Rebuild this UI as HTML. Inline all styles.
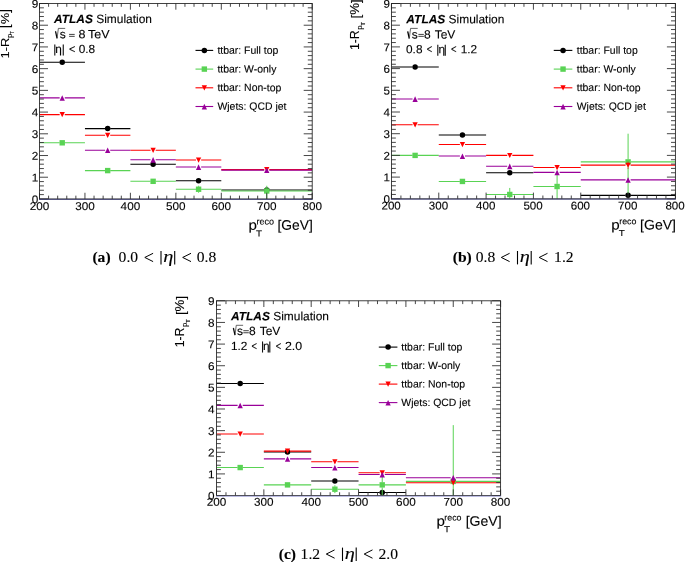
<!DOCTYPE html>
<html><head><meta charset="utf-8"><title>figure</title>
<style>
html,body{margin:0;padding:0;background:#fff;}
body{width:685px;height:562px;overflow:hidden;position:relative;font-family:"Liberation Sans",sans-serif;}
svg{position:absolute;left:0;top:0;will-change:transform;}
svg text{font-family:"Liberation Sans",sans-serif;fill:#000;stroke:#000;stroke-width:0.12px;}
</style></head><body>
<svg width="685" height="562" viewBox="0 0 685 562">
<clipPath id="ca"><rect x="39.5" y="3.5" width="272.7" height="195.45"/></clipPath>
<g clip-path="url(#ca)"><path d="M39.50 62.31H59.67M64.77 62.31H84.95" stroke="#000000" stroke-width="1.1"/><circle cx="62.22" cy="62.31" r="2.75" fill="#000000"/><path d="M84.95 128.61H105.12M110.22 128.61H130.40" stroke="#000000" stroke-width="1.1"/><circle cx="107.67" cy="128.61" r="2.75" fill="#000000"/><path d="M130.40 164.29H150.57M155.68 164.29H175.85" stroke="#000000" stroke-width="1.1"/><circle cx="153.12" cy="164.29" r="2.75" fill="#000000"/><path d="M175.85 180.79H196.03M201.13 180.79H221.30" stroke="#000000" stroke-width="1.1"/><circle cx="198.58" cy="180.79" r="2.75" fill="#000000"/><path d="M221.30 190.00H264.20M269.30 190.00H312.20" stroke="#000000" stroke-width="1.1"/><circle cx="266.75" cy="190.00" r="2.75" fill="#000000"/><path d="M39.50 142.81H59.67M64.77 142.81H84.95" stroke="#59d354" stroke-width="1.1"/><rect x="59.52" y="140.11" width="5.4" height="5.4" fill="#59d354"/><path d="M84.95 170.59H105.12M110.22 170.59H130.40" stroke="#59d354" stroke-width="1.1"/><rect x="104.97" y="167.89" width="5.4" height="5.4" fill="#59d354"/><path d="M130.40 181.32H150.57M155.68 181.32H175.85" stroke="#59d354" stroke-width="1.1"/><rect x="150.43" y="178.62" width="5.4" height="5.4" fill="#59d354"/><path d="M175.85 189.24H196.03M201.13 189.24H221.30" stroke="#59d354" stroke-width="1.1"/><path d="M198.58 185.77V186.69M198.58 191.79V192.72" stroke="#59d354" stroke-width="1.0"/><rect x="195.88" y="186.54" width="5.4" height="5.4" fill="#59d354"/><path d="M221.30 190.98H264.20M269.30 190.98H312.20" stroke="#59d354" stroke-width="1.1"/><path d="M266.75 185.77V188.43M266.75 193.53V201.84" stroke="#59d354" stroke-width="1.0"/><rect x="264.05" y="188.28" width="5.4" height="5.4" fill="#59d354"/><path d="M39.50 114.60H59.67M64.77 114.60H84.95" stroke="#ff0000" stroke-width="1.1"/><path d="M59.57 112.10h5.3l-2.65 5.2z" fill="#ff0000"/><path d="M84.95 135.21H105.12M110.22 135.21H130.40" stroke="#ff0000" stroke-width="1.1"/><path d="M105.02 132.71h5.3l-2.65 5.2z" fill="#ff0000"/><path d="M130.40 150.20H150.57M155.68 150.20H175.85" stroke="#ff0000" stroke-width="1.1"/><path d="M150.47 147.70h5.3l-2.65 5.2z" fill="#ff0000"/><path d="M175.85 159.95H196.03M201.13 159.95H221.30" stroke="#ff0000" stroke-width="1.1"/><path d="M195.93 157.45h5.3l-2.65 5.2z" fill="#ff0000"/><path d="M221.30 169.61H264.20M269.30 169.61H312.20" stroke="#ff0000" stroke-width="1.1"/><path d="M264.10 167.11h5.3l-2.65 5.2z" fill="#ff0000"/><path d="M39.50 97.90H59.67M64.77 97.90H84.95" stroke="#990099" stroke-width="1.1"/><path d="M59.57 100.80h5.3l-2.65 -5.55z" fill="#990099"/><path d="M84.95 150.20H105.12M110.22 150.20H130.40" stroke="#990099" stroke-width="1.1"/><path d="M105.02 153.10h5.3l-2.65 -5.55z" fill="#990099"/><path d="M130.40 159.73H150.57M155.68 159.73H175.85" stroke="#990099" stroke-width="1.1"/><path d="M150.47 162.63h5.3l-2.65 -5.55z" fill="#990099"/><path d="M175.85 167.00H196.03M201.13 167.00H221.30" stroke="#990099" stroke-width="1.1"/><path d="M195.93 169.90h5.3l-2.65 -5.55z" fill="#990099"/><path d="M221.30 170.15H264.20M269.30 170.15H312.20" stroke="#990099" stroke-width="1.1"/><path d="M264.10 173.05h5.3l-2.65 -5.55z" fill="#990099"/></g>
<path d="M39.50 198.95v-6.2M39.50 3.5v6.2M48.59 198.95v-3.3M48.59 3.5v3.3M57.68 198.95v-3.3M57.68 3.5v3.3M66.77 198.95v-3.3M66.77 3.5v3.3M75.86 198.95v-3.3M75.86 3.5v3.3M84.95 198.95v-6.2M84.95 3.5v6.2M94.04 198.95v-3.3M94.04 3.5v3.3M103.13 198.95v-3.3M103.13 3.5v3.3M112.22 198.95v-3.3M112.22 3.5v3.3M121.31 198.95v-3.3M121.31 3.5v3.3M130.40 198.95v-6.2M130.40 3.5v6.2M139.49 198.95v-3.3M139.49 3.5v3.3M148.58 198.95v-3.3M148.58 3.5v3.3M157.67 198.95v-3.3M157.67 3.5v3.3M166.76 198.95v-3.3M166.76 3.5v3.3M175.85 198.95v-6.2M175.85 3.5v6.2M184.94 198.95v-3.3M184.94 3.5v3.3M194.03 198.95v-3.3M194.03 3.5v3.3M203.12 198.95v-3.3M203.12 3.5v3.3M212.21 198.95v-3.3M212.21 3.5v3.3M221.30 198.95v-6.2M221.30 3.5v6.2M230.39 198.95v-3.3M230.39 3.5v3.3M239.48 198.95v-3.3M239.48 3.5v3.3M248.57 198.95v-3.3M248.57 3.5v3.3M257.66 198.95v-3.3M257.66 3.5v3.3M266.75 198.95v-6.2M266.75 3.5v6.2M275.84 198.95v-3.3M275.84 3.5v3.3M284.93 198.95v-3.3M284.93 3.5v3.3M294.02 198.95v-3.3M294.02 3.5v3.3M303.11 198.95v-3.3M303.11 3.5v3.3M312.20 198.95v-6.2M312.20 3.5v6.2M39.5 198.95h8.5M312.2 198.95h-8.5M39.5 194.61h4.4M312.2 194.61h-4.4M39.5 190.26h4.4M312.2 190.26h-4.4M39.5 185.92h4.4M312.2 185.92h-4.4M39.5 181.58h4.4M312.2 181.58h-4.4M39.5 177.23h8.5M312.2 177.23h-8.5M39.5 172.89h4.4M312.2 172.89h-4.4M39.5 168.55h4.4M312.2 168.55h-4.4M39.5 164.20h4.4M312.2 164.20h-4.4M39.5 159.86h4.4M312.2 159.86h-4.4M39.5 155.52h8.5M312.2 155.52h-8.5M39.5 151.17h4.4M312.2 151.17h-4.4M39.5 146.83h4.4M312.2 146.83h-4.4M39.5 142.49h4.4M312.2 142.49h-4.4M39.5 138.14h4.4M312.2 138.14h-4.4M39.5 133.80h8.5M312.2 133.80h-8.5M39.5 129.46h4.4M312.2 129.46h-4.4M39.5 125.11h4.4M312.2 125.11h-4.4M39.5 120.77h4.4M312.2 120.77h-4.4M39.5 116.43h4.4M312.2 116.43h-4.4M39.5 112.08h8.5M312.2 112.08h-8.5M39.5 107.74h4.4M312.2 107.74h-4.4M39.5 103.40h4.4M312.2 103.40h-4.4M39.5 99.05h4.4M312.2 99.05h-4.4M39.5 94.71h4.4M312.2 94.71h-4.4M39.5 90.37h8.5M312.2 90.37h-8.5M39.5 86.02h4.4M312.2 86.02h-4.4M39.5 81.68h4.4M312.2 81.68h-4.4M39.5 77.34h4.4M312.2 77.34h-4.4M39.5 72.99h4.4M312.2 72.99h-4.4M39.5 68.65h8.5M312.2 68.65h-8.5M39.5 64.31h4.4M312.2 64.31h-4.4M39.5 59.96h4.4M312.2 59.96h-4.4M39.5 55.62h4.4M312.2 55.62h-4.4M39.5 51.28h4.4M312.2 51.28h-4.4M39.5 46.93h8.5M312.2 46.93h-8.5M39.5 42.59h4.4M312.2 42.59h-4.4M39.5 38.25h4.4M312.2 38.25h-4.4M39.5 33.90h4.4M312.2 33.90h-4.4M39.5 29.56h4.4M312.2 29.56h-4.4M39.5 25.22h8.5M312.2 25.22h-8.5M39.5 20.87h4.4M312.2 20.87h-4.4M39.5 16.53h4.4M312.2 16.53h-4.4M39.5 12.19h4.4M312.2 12.19h-4.4M39.5 7.84h4.4M312.2 7.84h-4.4M39.5 3.50h8.5M312.2 3.50h-8.5" stroke="#333" stroke-width="0.9" fill="none"/>
<rect x="39.5" y="3.5" width="272.7" height="195.45" fill="none" stroke="#222" stroke-width="0.85"/>
<path d="M39.0 199.39999999999998H312.7" stroke="#30306a" stroke-width="0.8"/>
<text transform="translate(39.50 210.05) rotate(0.03) scale(1.0400 1)" font-size="11.3" text-anchor="middle">200</text>
<text transform="translate(84.95 210.05) rotate(0.03) scale(1.0400 1)" font-size="11.3" text-anchor="middle">300</text>
<text transform="translate(130.40 210.05) rotate(0.03) scale(1.0400 1)" font-size="11.3" text-anchor="middle">400</text>
<text transform="translate(175.85 210.05) rotate(0.03) scale(1.0400 1)" font-size="11.3" text-anchor="middle">500</text>
<text transform="translate(221.30 210.05) rotate(0.03) scale(1.0400 1)" font-size="11.3" text-anchor="middle">600</text>
<text transform="translate(266.75 210.05) rotate(0.03) scale(1.0400 1)" font-size="11.3" text-anchor="middle">700</text>
<text transform="translate(312.20 210.05) rotate(0.03) scale(1.0400 1)" font-size="11.3" text-anchor="middle">800</text>
<text transform="translate(38.40 203.20) rotate(0.03) scale(1.0400 1)" font-size="11.3" text-anchor="end">0</text>
<text transform="translate(38.40 181.48) rotate(0.03) scale(1.0400 1)" font-size="11.3" text-anchor="end">1</text>
<text transform="translate(38.40 159.77) rotate(0.03) scale(1.0400 1)" font-size="11.3" text-anchor="end">2</text>
<text transform="translate(38.40 138.05) rotate(0.03) scale(1.0400 1)" font-size="11.3" text-anchor="end">3</text>
<text transform="translate(38.40 116.33) rotate(0.03) scale(1.0400 1)" font-size="11.3" text-anchor="end">4</text>
<text transform="translate(38.40 94.62) rotate(0.03) scale(1.0400 1)" font-size="11.3" text-anchor="end">5</text>
<text transform="translate(38.40 72.90) rotate(0.03) scale(1.0400 1)" font-size="11.3" text-anchor="end">6</text>
<text transform="translate(38.40 51.18) rotate(0.03) scale(1.0400 1)" font-size="11.3" text-anchor="end">7</text>
<text transform="translate(38.40 29.47) rotate(0.03) scale(1.0400 1)" font-size="11.3" text-anchor="end">8</text>
<text transform="translate(38.40 7.75) rotate(0.03) scale(1.0400 1)" font-size="11.3" text-anchor="end">9</text>
<text transform="translate(312.80 229.80) rotate(0.03) scale(1.0000 1)" font-size="13.8" text-anchor="end">[GeV]</text>
<text transform="translate(248.60 229.80) rotate(0.03) scale(1.1000 1)" font-size="13.8">p</text>
<text transform="translate(256.60 224.60) rotate(0.03) scale(1.0000 1)" font-size="9.0">reco</text>
<text transform="translate(255.90 236.40) rotate(0.03) scale(1.1500 1)" font-size="8.6">T</text>
<text transform="translate(8.70 58.40) rotate(-90) scale(1.0 0.9)" font-size="12.9">1-R</text>
<text transform="translate(11.50 38.00) rotate(-90) scale(1.0 0.9)" font-size="7.6">p</text>
<text transform="translate(14.30 34.30) rotate(-90) scale(1.0 0.9)" font-size="5.0">T</text>
<text transform="translate(9.30 27.90) rotate(-90) scale(1.0 1.08)" font-size="12.9">[</text>
<text transform="translate(8.70 24.31) rotate(-90) scale(1.0 0.9)" font-size="12.9">%</text>
<text transform="translate(9.30 12.85) rotate(-90) scale(1.0 1.08)" font-size="12.9">]</text>
<text transform="translate(54.00 23.00) rotate(0.03) scale(0.9950 1)" font-size="12.0"><tspan font-weight="bold" font-style="italic">ATLAS</tspan> Simulation</text>
<path d="M55.00 31.80l0.65 -0.45" fill="none" stroke="#222" stroke-width="0.7"/>
<path d="M55.55 31.30L57.05 38.30" fill="none" stroke="#000" stroke-width="1.25"/>
<path d="M57.10 38.30L58.35 28.40H65.20" fill="none" stroke="#333" stroke-width="0.75" stroke-linejoin="miter"/>
<text transform="translate(59.70 38.20) rotate(0.03) scale(1.0000 1)" font-size="12.0">s</text>
<path d="M69.10 34.40h5.6M69.10 36.35h5.6" stroke="#000" stroke-width="0.75"/>
<text transform="translate(78.50 38.20) rotate(0.03) scale(1.0450 1)" font-size="12.0">8</text>
<text transform="translate(88.10 38.20) rotate(0.03) scale(1.0450 1)" font-size="12.0">TeV</text>
<text transform="translate(53.30 53.00) rotate(0.03) scale(1.0000 1)" font-size="11.8">|</text>
<text transform="translate(55.30 53.00) rotate(0.03) scale(1.0000 1)" font-size="11.8">η</text>
<text transform="translate(61.70 53.00) rotate(0.03) scale(1.0000 1)" font-size="11.8">|</text>
<text transform="translate(69.00 53.00) rotate(0.03) scale(0.9300 1)" font-size="11.8">&lt;</text>
<text transform="translate(78.70 53.00) rotate(0.03) scale(1.0000 1)" font-size="11.8">0.8</text>
<path d="M195.5 50.40h17.7" stroke="#000000" stroke-width="1.1"/>
<circle cx="204.35" cy="50.40" r="2.75" fill="#000000"/>
<text transform="translate(217.40 53.70) rotate(0.03) scale(0.9950 1)" font-size="10.5">ttbar: Full top</text>
<path d="M195.5 69.10h17.7" stroke="#59d354" stroke-width="1.1"/>
<rect x="201.65" y="66.40" width="5.4" height="5.4" fill="#59d354"/>
<text transform="translate(217.40 72.40) rotate(0.03) scale(0.9950 1)" font-size="10.5">ttbar: W-only</text>
<path d="M195.5 87.80h17.7" stroke="#ff0000" stroke-width="1.1"/>
<path d="M201.70 85.30h5.3l-2.65 5.2z" fill="#ff0000"/>
<text transform="translate(217.40 91.10) rotate(0.03) scale(0.9950 1)" font-size="10.5">ttbar: Non-top</text>
<path d="M195.5 106.50h17.7" stroke="#990099" stroke-width="1.1"/>
<path d="M201.70 109.40h5.3l-2.65 -5.55z" fill="#990099"/>
<text transform="translate(217.40 109.80) rotate(0.03) scale(0.9950 1)" font-size="10.5">Wjets: QCD jet</text>
<clipPath id="cb"><rect x="391.45" y="3.5" width="283.95" height="195.3"/></clipPath>
<g clip-path="url(#cb)"><path d="M391.45 66.97H412.56M417.66 66.97H438.77" stroke="#000000" stroke-width="1.1"/><circle cx="415.11" cy="66.97" r="2.75" fill="#000000"/><path d="M438.77 135.00H459.89M464.99 135.00H486.10" stroke="#000000" stroke-width="1.1"/><circle cx="462.44" cy="135.00" r="2.75" fill="#000000"/><path d="M486.10 172.76H507.21M512.31 172.76H533.42" stroke="#000000" stroke-width="1.1"/><circle cx="509.76" cy="172.76" r="2.75" fill="#000000"/><path d="M580.75 195.33H625.53M630.62 195.33H675.40" stroke="#000000" stroke-width="1.1"/><circle cx="628.08" cy="195.33" r="2.75" fill="#000000"/><path d="M391.45 155.40H412.56M417.66 155.40H438.77" stroke="#59d354" stroke-width="1.1"/><rect x="412.41" y="152.70" width="5.4" height="5.4" fill="#59d354"/><path d="M438.77 181.44H459.89M464.99 181.44H486.10" stroke="#59d354" stroke-width="1.1"/><rect x="459.74" y="178.74" width="5.4" height="5.4" fill="#59d354"/><path d="M486.10 194.46H507.21M512.31 194.46H533.42" stroke="#59d354" stroke-width="1.1"/><path d="M509.76 187.95V191.91M509.76 197.01V200.97" stroke="#59d354" stroke-width="1.0"/><rect x="507.06" y="191.76" width="5.4" height="5.4" fill="#59d354"/><path d="M533.42 186.50H554.54M559.64 186.50H580.75" stroke="#59d354" stroke-width="1.1"/><path d="M557.09 173.48V183.95M557.09 189.05V203.86" stroke="#59d354" stroke-width="1.0"/><rect x="554.39" y="183.80" width="5.4" height="5.4" fill="#59d354"/><path d="M580.75 161.91H625.53M630.62 161.91H675.40" stroke="#59d354" stroke-width="1.1"/><path d="M628.08 133.70V159.36M628.08 164.46V193.38" stroke="#59d354" stroke-width="1.0"/><rect x="625.38" y="159.21" width="5.4" height="5.4" fill="#59d354"/><path d="M391.45 124.80H412.56M417.66 124.80H438.77" stroke="#ff0000" stroke-width="1.1"/><path d="M412.46 122.30h5.3l-2.65 5.2z" fill="#ff0000"/><path d="M438.77 144.55H459.89M464.99 144.55H486.10" stroke="#ff0000" stroke-width="1.1"/><path d="M459.79 142.05h5.3l-2.65 5.2z" fill="#ff0000"/><path d="M486.10 155.40H507.21M512.31 155.40H533.42" stroke="#ff0000" stroke-width="1.1"/><path d="M507.11 152.90h5.3l-2.65 5.2z" fill="#ff0000"/><path d="M533.42 167.55H554.54M559.64 167.55H580.75" stroke="#ff0000" stroke-width="1.1"/><path d="M554.44 165.05h5.3l-2.65 5.2z" fill="#ff0000"/><path d="M580.75 165.17H625.53M630.62 165.17H675.40" stroke="#ff0000" stroke-width="1.1"/><path d="M628.08 161.69V162.62M628.08 167.72V168.64" stroke="#ff0000" stroke-width="1.0"/><path d="M625.43 162.67h5.3l-2.65 5.2z" fill="#ff0000"/><path d="M391.45 98.98H412.56M417.66 98.98H438.77" stroke="#990099" stroke-width="1.1"/><path d="M412.46 101.88h5.3l-2.65 -5.55z" fill="#990099"/><path d="M438.77 156.05H459.89M464.99 156.05H486.10" stroke="#990099" stroke-width="1.1"/><path d="M459.79 158.95h5.3l-2.65 -5.55z" fill="#990099"/><path d="M486.10 166.25H507.21M512.31 166.25H533.42" stroke="#990099" stroke-width="1.1"/><path d="M507.11 169.15h5.3l-2.65 -5.55z" fill="#990099"/><path d="M533.42 172.33H554.54M559.64 172.33H580.75" stroke="#990099" stroke-width="1.1"/><path d="M554.44 175.23h5.3l-2.65 -5.55z" fill="#990099"/><path d="M580.75 179.92H625.53M630.62 179.92H675.40" stroke="#990099" stroke-width="1.1"/><path d="M625.43 182.82h5.3l-2.65 -5.55z" fill="#990099"/></g>
<path d="M391.45 198.8v-6.2M391.45 3.5v6.2M400.91 198.8v-3.3M400.91 3.5v3.3M410.38 198.8v-3.3M410.38 3.5v3.3M419.84 198.8v-3.3M419.84 3.5v3.3M429.31 198.8v-3.3M429.31 3.5v3.3M438.77 198.8v-6.2M438.77 3.5v6.2M448.24 198.8v-3.3M448.24 3.5v3.3M457.70 198.8v-3.3M457.70 3.5v3.3M467.17 198.8v-3.3M467.17 3.5v3.3M476.63 198.8v-3.3M476.63 3.5v3.3M486.10 198.8v-6.2M486.10 3.5v6.2M495.56 198.8v-3.3M495.56 3.5v3.3M505.03 198.8v-3.3M505.03 3.5v3.3M514.50 198.8v-3.3M514.50 3.5v3.3M523.96 198.8v-3.3M523.96 3.5v3.3M533.42 198.8v-6.2M533.42 3.5v6.2M542.89 198.8v-3.3M542.89 3.5v3.3M552.36 198.8v-3.3M552.36 3.5v3.3M561.82 198.8v-3.3M561.82 3.5v3.3M571.28 198.8v-3.3M571.28 3.5v3.3M580.75 198.8v-6.2M580.75 3.5v6.2M590.21 198.8v-3.3M590.21 3.5v3.3M599.68 198.8v-3.3M599.68 3.5v3.3M609.14 198.8v-3.3M609.14 3.5v3.3M618.61 198.8v-3.3M618.61 3.5v3.3M628.08 198.8v-6.2M628.08 3.5v6.2M637.54 198.8v-3.3M637.54 3.5v3.3M647.00 198.8v-3.3M647.00 3.5v3.3M656.47 198.8v-3.3M656.47 3.5v3.3M665.93 198.8v-3.3M665.93 3.5v3.3M675.40 198.8v-6.2M675.40 3.5v6.2M391.45 198.80h8.5M675.4 198.80h-8.5M391.45 194.46h4.4M675.4 194.46h-4.4M391.45 190.12h4.4M675.4 190.12h-4.4M391.45 185.78h4.4M675.4 185.78h-4.4M391.45 181.44h4.4M675.4 181.44h-4.4M391.45 177.10h8.5M675.4 177.10h-8.5M391.45 172.76h4.4M675.4 172.76h-4.4M391.45 168.42h4.4M675.4 168.42h-4.4M391.45 164.08h4.4M675.4 164.08h-4.4M391.45 159.74h4.4M675.4 159.74h-4.4M391.45 155.40h8.5M675.4 155.40h-8.5M391.45 151.06h4.4M675.4 151.06h-4.4M391.45 146.72h4.4M675.4 146.72h-4.4M391.45 142.38h4.4M675.4 142.38h-4.4M391.45 138.04h4.4M675.4 138.04h-4.4M391.45 133.70h8.5M675.4 133.70h-8.5M391.45 129.36h4.4M675.4 129.36h-4.4M391.45 125.02h4.4M675.4 125.02h-4.4M391.45 120.68h4.4M675.4 120.68h-4.4M391.45 116.34h4.4M675.4 116.34h-4.4M391.45 112.00h8.5M675.4 112.00h-8.5M391.45 107.66h4.4M675.4 107.66h-4.4M391.45 103.32h4.4M675.4 103.32h-4.4M391.45 98.98h4.4M675.4 98.98h-4.4M391.45 94.64h4.4M675.4 94.64h-4.4M391.45 90.30h8.5M675.4 90.30h-8.5M391.45 85.96h4.4M675.4 85.96h-4.4M391.45 81.62h4.4M675.4 81.62h-4.4M391.45 77.28h4.4M675.4 77.28h-4.4M391.45 72.94h4.4M675.4 72.94h-4.4M391.45 68.60h8.5M675.4 68.60h-8.5M391.45 64.26h4.4M675.4 64.26h-4.4M391.45 59.92h4.4M675.4 59.92h-4.4M391.45 55.58h4.4M675.4 55.58h-4.4M391.45 51.24h4.4M675.4 51.24h-4.4M391.45 46.90h8.5M675.4 46.90h-8.5M391.45 42.56h4.4M675.4 42.56h-4.4M391.45 38.22h4.4M675.4 38.22h-4.4M391.45 33.88h4.4M675.4 33.88h-4.4M391.45 29.54h4.4M675.4 29.54h-4.4M391.45 25.20h8.5M675.4 25.20h-8.5M391.45 20.86h4.4M675.4 20.86h-4.4M391.45 16.52h4.4M675.4 16.52h-4.4M391.45 12.18h4.4M675.4 12.18h-4.4M391.45 7.84h4.4M675.4 7.84h-4.4M391.45 3.50h8.5M675.4 3.50h-8.5" stroke="#333" stroke-width="0.9" fill="none"/>
<rect x="391.45" y="3.5" width="283.95" height="195.3" fill="none" stroke="#222" stroke-width="0.85"/>
<path d="M390.95 199.20000000000002H675.9" stroke="#48487e" stroke-width="0.9"/>
<text transform="translate(391.10 209.60) rotate(0.03) scale(1.0250 1)" font-size="11.3" text-anchor="middle">200</text>
<text transform="translate(438.42 209.60) rotate(0.03) scale(1.0250 1)" font-size="11.3" text-anchor="middle">300</text>
<text transform="translate(485.75 209.60) rotate(0.03) scale(1.0250 1)" font-size="11.3" text-anchor="middle">400</text>
<text transform="translate(533.07 209.60) rotate(0.03) scale(1.0250 1)" font-size="11.3" text-anchor="middle">500</text>
<text transform="translate(580.40 209.60) rotate(0.03) scale(1.0250 1)" font-size="11.3" text-anchor="middle">600</text>
<text transform="translate(627.73 209.60) rotate(0.03) scale(1.0250 1)" font-size="11.3" text-anchor="middle">700</text>
<text transform="translate(675.05 209.60) rotate(0.03) scale(1.0250 1)" font-size="11.3" text-anchor="middle">800</text>
<text transform="translate(389.95 203.05) rotate(0.03) scale(1.0250 1)" font-size="11.3" text-anchor="end">0</text>
<text transform="translate(389.95 181.35) rotate(0.03) scale(1.0250 1)" font-size="11.3" text-anchor="end">1</text>
<text transform="translate(389.95 159.65) rotate(0.03) scale(1.0250 1)" font-size="11.3" text-anchor="end">2</text>
<text transform="translate(389.95 137.95) rotate(0.03) scale(1.0250 1)" font-size="11.3" text-anchor="end">3</text>
<text transform="translate(389.95 116.25) rotate(0.03) scale(1.0250 1)" font-size="11.3" text-anchor="end">4</text>
<text transform="translate(389.95 94.55) rotate(0.03) scale(1.0250 1)" font-size="11.3" text-anchor="end">5</text>
<text transform="translate(389.95 72.85) rotate(0.03) scale(1.0250 1)" font-size="11.3" text-anchor="end">6</text>
<text transform="translate(389.95 51.15) rotate(0.03) scale(1.0250 1)" font-size="11.3" text-anchor="end">7</text>
<text transform="translate(389.95 29.45) rotate(0.03) scale(1.0250 1)" font-size="11.3" text-anchor="end">8</text>
<text transform="translate(389.95 7.75) rotate(0.03) scale(1.0250 1)" font-size="11.3" text-anchor="end">9</text>
<text transform="translate(676.00 229.50) rotate(0.03) scale(1.0200 1)" font-size="13.8" text-anchor="end">[GeV]</text>
<text transform="translate(611.20 229.50) rotate(0.03) scale(1.1000 1)" font-size="13.8">p</text>
<text transform="translate(619.20 224.30) rotate(0.03) scale(1.0200 1)" font-size="8.7">reco</text>
<text transform="translate(618.80 236.10) rotate(0.03) scale(1.1500 1)" font-size="8.6">T</text>
<text transform="translate(359.25 50.00) rotate(-90) scale(0.92 0.97)" font-size="13.3">1-R</text>
<text transform="translate(362.05 29.80) rotate(-90) scale(1.0 0.97)" font-size="7.6">p</text>
<text transform="translate(364.85 25.80) rotate(-90) scale(1.0 0.97)" font-size="6.2">T</text>
<text transform="translate(359.85 18.50) rotate(-90) scale(1.0 1.03)" font-size="13.3">[</text>
<text transform="translate(359.25 14.80) rotate(-90) scale(1.0 0.97)" font-size="13.3">%</text>
<text transform="translate(359.85 2.98) rotate(-90) scale(1.0 1.03)" font-size="13.3">]</text>
<text transform="translate(406.35 23.20) rotate(0.03) scale(0.9950 1)" font-size="12.0"><tspan font-weight="bold" font-style="italic">ATLAS</tspan> Simulation</text>
<path d="M407.20 32.00l0.65 -0.45" fill="none" stroke="#222" stroke-width="0.7"/>
<path d="M407.75 31.50L409.25 38.50" fill="none" stroke="#000" stroke-width="1.25"/>
<path d="M409.30 38.50L410.55 28.40H417.70" fill="none" stroke="#333" stroke-width="0.75" stroke-linejoin="miter"/>
<text transform="translate(411.75 38.40) rotate(0.03) scale(1.0000 1)" font-size="12.0">s</text>
<path d="M418.35 34.40h5.5M418.35 36.35h5.5" stroke="#000" stroke-width="0.75"/>
<text transform="translate(424.05 38.40) rotate(0.03) scale(1.0000 1)" font-size="12.0">8</text>
<text transform="translate(434.65 38.40) rotate(0.03) scale(1.0000 1)" font-size="12.0">TeV</text>
<text transform="translate(406.05 53.30) rotate(0.03) scale(1.0000 1)" font-size="11.8">0.8</text>
<text transform="translate(426.75 53.30) rotate(0.03) scale(0.8000 1)" font-size="11.8">&lt;</text>
<text transform="translate(436.25 53.30) rotate(0.03) scale(1.0000 1)" font-size="11.8">|</text>
<text transform="translate(438.45 53.30) rotate(0.03) scale(1.0000 1)" font-size="11.8">η</text>
<text transform="translate(443.65 53.30) rotate(0.03) scale(1.0000 1)" font-size="11.8">|</text>
<text transform="translate(451.05 53.30) rotate(0.03) scale(0.8000 1)" font-size="11.8">&lt;</text>
<text transform="translate(460.75 53.30) rotate(0.03) scale(1.0000 1)" font-size="11.8">1.2</text>
<path d="M553.75 50.40h18.6" stroke="#000000" stroke-width="1.1"/>
<circle cx="563.05" cy="50.40" r="2.75" fill="#000000"/>
<text transform="translate(576.75 53.70) rotate(0.03) scale(0.9950 1)" font-size="10.5">ttbar: Full top</text>
<path d="M553.75 69.10h18.6" stroke="#59d354" stroke-width="1.1"/>
<rect x="560.35" y="66.40" width="5.4" height="5.4" fill="#59d354"/>
<text transform="translate(576.75 72.40) rotate(0.03) scale(0.9950 1)" font-size="10.5">ttbar: W-only</text>
<path d="M553.75 87.80h18.6" stroke="#ff0000" stroke-width="1.1"/>
<path d="M560.40 85.30h5.3l-2.65 5.2z" fill="#ff0000"/>
<text transform="translate(576.75 91.10) rotate(0.03) scale(0.9950 1)" font-size="10.5">ttbar: Non-top</text>
<path d="M553.75 106.50h18.6" stroke="#990099" stroke-width="1.1"/>
<path d="M560.40 109.40h5.3l-2.65 -5.55z" fill="#990099"/>
<text transform="translate(576.75 109.80) rotate(0.03) scale(0.9950 1)" font-size="10.5">Wjets: QCD jet</text>
<clipPath id="cc"><rect x="216.5" y="300.8" width="284.1" height="194.75"/></clipPath>
<g clip-path="url(#cc)"><path d="M216.50 383.53H237.62M242.73 383.53H263.85" stroke="#000000" stroke-width="1.1"/><circle cx="240.18" cy="383.53" r="2.75" fill="#000000"/><path d="M263.85 451.95H284.97M290.07 451.95H311.20" stroke="#000000" stroke-width="1.1"/><circle cx="287.52" cy="451.95" r="2.75" fill="#000000"/><path d="M311.20 480.97H332.32M337.43 480.97H358.55" stroke="#000000" stroke-width="1.1"/><circle cx="334.88" cy="480.97" r="2.75" fill="#000000"/><path d="M358.55 492.43H379.68M384.78 492.43H405.90" stroke="#000000" stroke-width="1.1"/><circle cx="382.23" cy="492.43" r="2.75" fill="#000000"/><path d="M216.50 467.55H237.62M242.73 467.55H263.85" stroke="#59d354" stroke-width="1.1"/><rect x="237.48" y="464.85" width="5.4" height="5.4" fill="#59d354"/><path d="M263.85 484.88H284.97M290.07 484.88H311.20" stroke="#59d354" stroke-width="1.1"/><rect x="284.82" y="482.18" width="5.4" height="5.4" fill="#59d354"/><path d="M311.20 489.21H332.32M337.43 489.21H358.55" stroke="#59d354" stroke-width="1.1"/><path d="M334.88 485.31V486.66M334.88 491.76V493.10" stroke="#59d354" stroke-width="1.0"/><rect x="332.18" y="486.51" width="5.4" height="5.4" fill="#59d354"/><path d="M358.55 484.88H379.68M384.78 484.88H405.90" stroke="#59d354" stroke-width="1.1"/><path d="M382.23 474.06V482.33M382.23 487.43V500.03" stroke="#59d354" stroke-width="1.0"/><rect x="379.53" y="482.18" width="5.4" height="5.4" fill="#59d354"/><path d="M405.90 481.40H450.70M455.80 481.40H500.60" stroke="#59d354" stroke-width="1.1"/><path d="M453.25 425.14V478.85M453.25 483.95V503.04" stroke="#59d354" stroke-width="1.0"/><rect x="450.55" y="478.70" width="5.4" height="5.4" fill="#59d354"/><path d="M216.50 433.99H237.62M242.73 433.99H263.85" stroke="#ff0000" stroke-width="1.1"/><path d="M237.53 431.49h5.3l-2.65 5.2z" fill="#ff0000"/><path d="M263.85 451.08H284.97M290.07 451.08H311.20" stroke="#ff0000" stroke-width="1.1"/><path d="M284.88 448.58h5.3l-2.65 5.2z" fill="#ff0000"/><path d="M311.20 461.71H332.32M337.43 461.71H358.55" stroke="#ff0000" stroke-width="1.1"/><path d="M332.23 459.21h5.3l-2.65 5.2z" fill="#ff0000"/><path d="M358.55 472.74H379.68M384.78 472.74H405.90" stroke="#ff0000" stroke-width="1.1"/><path d="M379.58 470.24h5.3l-2.65 5.2z" fill="#ff0000"/><path d="M405.90 482.70H450.70M455.80 482.70H500.60" stroke="#ff0000" stroke-width="1.1"/><path d="M450.60 480.20h5.3l-2.65 5.2z" fill="#ff0000"/><path d="M216.50 405.40H237.62M242.73 405.40H263.85" stroke="#990099" stroke-width="1.1"/><path d="M237.53 408.30h5.3l-2.65 -5.55z" fill="#990099"/><path d="M263.85 458.89H284.97M290.07 458.89H311.20" stroke="#990099" stroke-width="1.1"/><path d="M284.88 461.79h5.3l-2.65 -5.55z" fill="#990099"/><path d="M311.20 467.55H332.32M337.43 467.55H358.55" stroke="#990099" stroke-width="1.1"/><path d="M332.23 470.45h5.3l-2.65 -5.55z" fill="#990099"/><path d="M358.55 474.50H379.68M384.78 474.50H405.90" stroke="#990099" stroke-width="1.1"/><path d="M379.58 477.40h5.3l-2.65 -5.55z" fill="#990099"/><path d="M405.90 477.72H450.70M455.80 477.72H500.60" stroke="#990099" stroke-width="1.1"/><path d="M450.60 480.62h5.3l-2.65 -5.55z" fill="#990099"/></g>
<path d="M216.50 495.55v-6.2M216.50 300.8v6.2M225.97 495.55v-3.3M225.97 300.8v3.3M235.44 495.55v-3.3M235.44 300.8v3.3M244.91 495.55v-3.3M244.91 300.8v3.3M254.38 495.55v-3.3M254.38 300.8v3.3M263.85 495.55v-6.2M263.85 300.8v6.2M273.32 495.55v-3.3M273.32 300.8v3.3M282.79 495.55v-3.3M282.79 300.8v3.3M292.26 495.55v-3.3M292.26 300.8v3.3M301.73 495.55v-3.3M301.73 300.8v3.3M311.20 495.55v-6.2M311.20 300.8v6.2M320.67 495.55v-3.3M320.67 300.8v3.3M330.14 495.55v-3.3M330.14 300.8v3.3M339.61 495.55v-3.3M339.61 300.8v3.3M349.08 495.55v-3.3M349.08 300.8v3.3M358.55 495.55v-6.2M358.55 300.8v6.2M368.02 495.55v-3.3M368.02 300.8v3.3M377.49 495.55v-3.3M377.49 300.8v3.3M386.96 495.55v-3.3M386.96 300.8v3.3M396.43 495.55v-3.3M396.43 300.8v3.3M405.90 495.55v-6.2M405.90 300.8v6.2M415.37 495.55v-3.3M415.37 300.8v3.3M424.84 495.55v-3.3M424.84 300.8v3.3M434.31 495.55v-3.3M434.31 300.8v3.3M443.78 495.55v-3.3M443.78 300.8v3.3M453.25 495.55v-6.2M453.25 300.8v6.2M462.72 495.55v-3.3M462.72 300.8v3.3M472.19 495.55v-3.3M472.19 300.8v3.3M481.66 495.55v-3.3M481.66 300.8v3.3M491.13 495.55v-3.3M491.13 300.8v3.3M500.60 495.55v-6.2M500.60 300.8v6.2M216.5 495.55h8.5M500.6 495.55h-8.5M216.5 491.22h4.4M500.6 491.22h-4.4M216.5 486.89h4.4M500.6 486.89h-4.4M216.5 482.57h4.4M500.6 482.57h-4.4M216.5 478.24h4.4M500.6 478.24h-4.4M216.5 473.91h8.5M500.6 473.91h-8.5M216.5 469.58h4.4M500.6 469.58h-4.4M216.5 465.26h4.4M500.6 465.26h-4.4M216.5 460.93h4.4M500.6 460.93h-4.4M216.5 456.60h4.4M500.6 456.60h-4.4M216.5 452.27h8.5M500.6 452.27h-8.5M216.5 447.94h4.4M500.6 447.94h-4.4M216.5 443.62h4.4M500.6 443.62h-4.4M216.5 439.29h4.4M500.6 439.29h-4.4M216.5 434.96h4.4M500.6 434.96h-4.4M216.5 430.63h8.5M500.6 430.63h-8.5M216.5 426.31h4.4M500.6 426.31h-4.4M216.5 421.98h4.4M500.6 421.98h-4.4M216.5 417.65h4.4M500.6 417.65h-4.4M216.5 413.32h4.4M500.6 413.32h-4.4M216.5 408.99h8.5M500.6 408.99h-8.5M216.5 404.67h4.4M500.6 404.67h-4.4M216.5 400.34h4.4M500.6 400.34h-4.4M216.5 396.01h4.4M500.6 396.01h-4.4M216.5 391.68h4.4M500.6 391.68h-4.4M216.5 387.36h8.5M500.6 387.36h-8.5M216.5 383.03h4.4M500.6 383.03h-4.4M216.5 378.70h4.4M500.6 378.70h-4.4M216.5 374.37h4.4M500.6 374.37h-4.4M216.5 370.04h4.4M500.6 370.04h-4.4M216.5 365.72h8.5M500.6 365.72h-8.5M216.5 361.39h4.4M500.6 361.39h-4.4M216.5 357.06h4.4M500.6 357.06h-4.4M216.5 352.73h4.4M500.6 352.73h-4.4M216.5 348.41h4.4M500.6 348.41h-4.4M216.5 344.08h8.5M500.6 344.08h-8.5M216.5 339.75h4.4M500.6 339.75h-4.4M216.5 335.42h4.4M500.6 335.42h-4.4M216.5 331.09h4.4M500.6 331.09h-4.4M216.5 326.77h4.4M500.6 326.77h-4.4M216.5 322.44h8.5M500.6 322.44h-8.5M216.5 318.11h4.4M500.6 318.11h-4.4M216.5 313.78h4.4M500.6 313.78h-4.4M216.5 309.46h4.4M500.6 309.46h-4.4M216.5 305.13h4.4M500.6 305.13h-4.4M216.5 300.80h8.5M500.6 300.80h-8.5" stroke="#333" stroke-width="0.9" fill="none"/>
<rect x="216.5" y="300.8" width="284.1" height="194.75" fill="none" stroke="#222" stroke-width="0.85"/>
<path d="M216.0 496.3H501.1" stroke="#a4a4d8" stroke-width="0.9"/>
<text transform="translate(216.50 505.85) rotate(0.03) scale(1.0400 1)" font-size="11.3" text-anchor="middle">200</text>
<text transform="translate(263.85 505.85) rotate(0.03) scale(1.0400 1)" font-size="11.3" text-anchor="middle">300</text>
<text transform="translate(311.20 505.85) rotate(0.03) scale(1.0400 1)" font-size="11.3" text-anchor="middle">400</text>
<text transform="translate(358.55 505.85) rotate(0.03) scale(1.0400 1)" font-size="11.3" text-anchor="middle">500</text>
<text transform="translate(405.90 505.85) rotate(0.03) scale(1.0400 1)" font-size="11.3" text-anchor="middle">600</text>
<text transform="translate(453.25 505.85) rotate(0.03) scale(1.0400 1)" font-size="11.3" text-anchor="middle">700</text>
<text transform="translate(500.60 505.85) rotate(0.03) scale(1.0400 1)" font-size="11.3" text-anchor="middle">800</text>
<text transform="translate(214.50 499.80) rotate(0.03) scale(1.0400 1)" font-size="11.3" text-anchor="end">0</text>
<text transform="translate(214.50 478.16) rotate(0.03) scale(1.0400 1)" font-size="11.3" text-anchor="end">1</text>
<text transform="translate(214.50 456.52) rotate(0.03) scale(1.0400 1)" font-size="11.3" text-anchor="end">2</text>
<text transform="translate(214.50 434.88) rotate(0.03) scale(1.0400 1)" font-size="11.3" text-anchor="end">3</text>
<text transform="translate(214.50 413.24) rotate(0.03) scale(1.0400 1)" font-size="11.3" text-anchor="end">4</text>
<text transform="translate(214.50 391.61) rotate(0.03) scale(1.0400 1)" font-size="11.3" text-anchor="end">5</text>
<text transform="translate(214.50 369.97) rotate(0.03) scale(1.0400 1)" font-size="11.3" text-anchor="end">6</text>
<text transform="translate(214.50 348.33) rotate(0.03) scale(1.0400 1)" font-size="11.3" text-anchor="end">7</text>
<text transform="translate(214.50 326.69) rotate(0.03) scale(1.0400 1)" font-size="11.3" text-anchor="end">8</text>
<text transform="translate(214.50 305.05) rotate(0.03) scale(1.0400 1)" font-size="11.3" text-anchor="end">9</text>
<text transform="translate(501.60 525.75) rotate(0.03) scale(1.0200 1)" font-size="13.8" text-anchor="end">[GeV]</text>
<text transform="translate(436.40 525.75) rotate(0.03) scale(1.1000 1)" font-size="13.8">p</text>
<text transform="translate(444.30 520.55) rotate(0.03) scale(1.0200 1)" font-size="8.7">reco</text>
<text transform="translate(444.00 532.35) rotate(0.03) scale(1.1500 1)" font-size="8.6">T</text>
<text transform="translate(184.30 347.30) rotate(-90) scale(0.92 0.97)" font-size="13.3">1-R</text>
<text transform="translate(187.10 327.10) rotate(-90) scale(1.0 0.97)" font-size="7.6">p</text>
<text transform="translate(189.90 323.10) rotate(-90) scale(1.0 0.97)" font-size="6.2">T</text>
<text transform="translate(185.25 315.10) rotate(-90) scale(1.0 1.03)" font-size="13.3">[</text>
<text transform="translate(184.30 311.40) rotate(-90) scale(1.0 0.97)" font-size="13.3">%</text>
<text transform="translate(185.25 299.58) rotate(-90) scale(1.0 1.03)" font-size="13.3">]</text>
<text transform="translate(231.00 320.30) rotate(0.03) scale(0.9950 1)" font-size="12.0"><tspan font-weight="bold" font-style="italic">ATLAS</tspan> Simulation</text>
<path d="M232.90 328.60l0.65 -0.45" fill="none" stroke="#222" stroke-width="0.7"/>
<path d="M233.45 328.10L234.95 335.10" fill="none" stroke="#000" stroke-width="1.25"/>
<path d="M235.00 335.10L236.25 325.30H243.10" fill="none" stroke="#333" stroke-width="0.75" stroke-linejoin="miter"/>
<text transform="translate(236.90 335.00) rotate(0.03) scale(1.0000 1)" font-size="12.0">s</text>
<path d="M243.30 330.70h5.5M243.30 332.75h5.5" stroke="#000" stroke-width="0.75"/>
<text transform="translate(249.00 335.00) rotate(0.03) scale(1.0000 1)" font-size="12.0">8</text>
<text transform="translate(259.70 335.00) rotate(0.03) scale(1.0000 1)" font-size="12.0">TeV</text>
<text transform="translate(231.00 350.00) rotate(0.03) scale(1.0000 1)" font-size="11.8">1.2</text>
<text transform="translate(251.40 350.00) rotate(0.03) scale(0.8000 1)" font-size="11.8">&lt;</text>
<text transform="translate(260.90 350.00) rotate(0.03) scale(1.0000 1)" font-size="11.8">|</text>
<text transform="translate(263.10 350.00) rotate(0.03) scale(1.0000 1)" font-size="11.8">η</text>
<text transform="translate(268.30 350.00) rotate(0.03) scale(1.0000 1)" font-size="11.8">|</text>
<text transform="translate(275.70 350.00) rotate(0.03) scale(0.8000 1)" font-size="11.8">&lt;</text>
<text transform="translate(284.90 350.00) rotate(0.03) scale(1.0500 1)" font-size="11.8">2.0</text>
<path d="M378.8 347.10h18.6" stroke="#000000" stroke-width="1.1"/>
<circle cx="388.10" cy="347.10" r="2.75" fill="#000000"/>
<text transform="translate(401.30 350.40) rotate(0.03) scale(0.9950 1)" font-size="10.5">ttbar: Full top</text>
<path d="M378.8 365.60h18.6" stroke="#59d354" stroke-width="1.1"/>
<rect x="385.40" y="362.90" width="5.4" height="5.4" fill="#59d354"/>
<text transform="translate(401.30 368.90) rotate(0.03) scale(0.9950 1)" font-size="10.5">ttbar: W-only</text>
<path d="M378.8 384.10h18.6" stroke="#ff0000" stroke-width="1.1"/>
<path d="M385.45 381.60h5.3l-2.65 5.2z" fill="#ff0000"/>
<text transform="translate(401.30 387.40) rotate(0.03) scale(0.9950 1)" font-size="10.5">ttbar: Non-top</text>
<path d="M378.8 402.60h18.6" stroke="#990099" stroke-width="1.1"/>
<path d="M385.45 405.50h5.3l-2.65 -5.55z" fill="#990099"/>
<text transform="translate(401.30 405.90) rotate(0.03) scale(0.9950 1)" font-size="10.5">Wjets: QCD jet</text>
<text x="92.4" y="262.3" font-size="15.6" style="font-family:'Liberation Serif',serif" font-weight="bold">(a)</text>
<text x="118.6" y="262.3" font-size="15.6" style="font-family:'Liberation Serif',serif">0.0</text>
<path d="M153.10 253.30L144.80 257.45L153.10 261.60" fill="none" stroke="#000" stroke-width="1.0" stroke-linejoin="miter"/>
<path d="M161.00 251.00V264.40" stroke="#000" stroke-width="1.1"/>
<text transform="translate(163.3 262.3) scale(1.27 1)" font-size="16.0" font-style="italic" style="font-family:'Liberation Serif',serif">η</text>
<path d="M174.70 251.00V264.40" stroke="#000" stroke-width="1.1"/>
<path d="M191.00 253.30L182.70 257.45L191.00 261.60" fill="none" stroke="#000" stroke-width="1.0" stroke-linejoin="miter"/>
<text x="196.7" y="262.3" font-size="15.6" style="font-family:'Liberation Serif',serif">0.8</text>
<text x="452.7" y="262.3" font-size="15.6" style="font-family:'Liberation Serif',serif" font-weight="bold">(b)</text>
<text x="475.7" y="262.3" font-size="15.6" style="font-family:'Liberation Serif',serif">0.8</text>
<path d="M509.60 253.30L501.30 257.45L509.60 261.60" fill="none" stroke="#000" stroke-width="1.0" stroke-linejoin="miter"/>
<path d="M517.50 251.00V264.40" stroke="#000" stroke-width="1.1"/>
<text transform="translate(519.8 262.3) scale(1.27 1)" font-size="16.0" font-style="italic" style="font-family:'Liberation Serif',serif">η</text>
<path d="M531.20 251.00V264.40" stroke="#000" stroke-width="1.1"/>
<path d="M547.50 253.30L539.20 257.45L547.50 261.60" fill="none" stroke="#000" stroke-width="1.0" stroke-linejoin="miter"/>
<text x="554.1" y="262.3" font-size="15.6" style="font-family:'Liberation Serif',serif">1.2</text>
<text x="278.7" y="558.9" font-size="15.6" style="font-family:'Liberation Serif',serif" font-weight="bold">(c)</text>
<text x="300.6" y="558.9" font-size="15.6" style="font-family:'Liberation Serif',serif">1.2</text>
<path d="M334.60 549.90L326.30 554.05L334.60 558.20" fill="none" stroke="#000" stroke-width="1.0" stroke-linejoin="miter"/>
<path d="M342.50 547.60V561.00" stroke="#000" stroke-width="1.1"/>
<text transform="translate(344.8 558.9) scale(1.27 1)" font-size="16.0" font-style="italic" style="font-family:'Liberation Serif',serif">η</text>
<path d="M356.20 547.60V561.00" stroke="#000" stroke-width="1.1"/>
<path d="M372.50 549.90L364.20 554.05L372.50 558.20" fill="none" stroke="#000" stroke-width="1.0" stroke-linejoin="miter"/>
<text x="378.5" y="558.9" font-size="15.6" style="font-family:'Liberation Serif',serif">2.0</text>
</svg>
</body></html>
